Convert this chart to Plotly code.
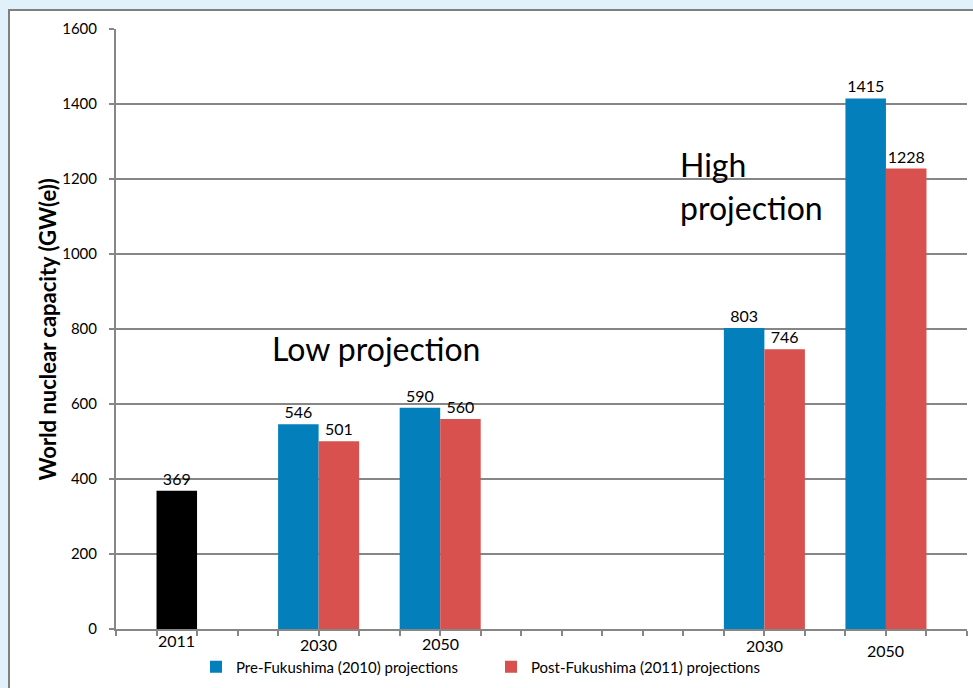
import plotly.graph_objects as go

# ---- data ----
actual_label = "2011"
actual_value = 369
actual_slot = 1

group_labels = ["2030", "2050", "2030", "2050"]
group_slots = [4, 7, 15, 18]          # slot of the pre-Fukushima bar in each group
pre_values = [546, 590, 803, 1415]
post_values = [501, 560, 746, 1228]
n_slots = 21

y_ticks = [0, 200, 400, 600, 800, 1000, 1200, 1400, 1600]

# ---- style ----
FONT = "Lato"
GRID = "#868686"
BLUE = "#0380bb"
RED = "#d9514e"
LABEL_SIZE = 16

fig = go.Figure()

fig.add_trace(go.Bar(
    x=[actual_slot + 0.5], y=[actual_value], width=1,
    marker=dict(color="black", line=dict(width=0)),
    text=[str(actual_value)], textposition="outside", textangle=0,
    textfont=dict(family=FONT, size=LABEL_SIZE, color="black"),
    showlegend=False, cliponaxis=False, constraintext="none",
))
fig.add_trace(go.Bar(
    x=[s + 0.5 for s in group_slots], y=pre_values, width=1,
    name="Pre-Fukushima (2010) projections",
    marker=dict(color=BLUE, line=dict(width=0)),
    text=[str(v) for v in pre_values], textposition="outside", textangle=0,
    textfont=dict(family=FONT, size=LABEL_SIZE, color="black"),
    cliponaxis=False, constraintext="none",
))
fig.add_trace(go.Bar(
    x=[s + 1.5 for s in group_slots], y=post_values, width=1,
    name="Post-Fukushima (2011) projections",
    marker=dict(color=RED, line=dict(width=0)),
    text=[str(v) for v in post_values], textposition="outside", textangle=0,
    textfont=dict(family=FONT, size=LABEL_SIZE, color="black"),
    cliponaxis=False, constraintext="none",
))

# x category labels
label_x = [actual_slot + 0.5] + [s + 1 for s in group_slots]
label_text = [actual_label] + group_labels
label_shift = [-11, -15, -14, -16, -21]
annotations = []
for lx, lt, sh in zip(label_x, label_text, label_shift):
    annotations.append(dict(x=lx, y=0, xref="x", yref="y", text=lt, showarrow=False,
                            yshift=sh, font=dict(family=FONT, size=16, color="black")))

annotations += [
    dict(x=(270 - 116) / 851, y=(630 - 349) / 601, xref="paper", yref="paper",
         text="Low projection", showarrow=False, xanchor="left", yanchor="middle",
         font=dict(family=FONT, size=32, color="black")),
    dict(x=(678 - 116) / 851, y=(630 - 165) / 601, xref="paper", yref="paper",
         text="High", showarrow=False, xanchor="left", yanchor="middle",
         font=dict(family=FONT, size=32, color="black")),
    dict(x=(678 - 116) / 851, y=(630 - 208) / 601, xref="paper", yref="paper",
         text="projection", showarrow=False, xanchor="left", yanchor="middle",
         font=dict(family=FONT, size=32, color="black")),
    dict(x=(47 - 116) / 851, y=(630 - 330) / 601, xref="paper", yref="paper",
         text="<b>World nuclear capacity (GW(e))</b>", showarrow=False, textangle=-90,
         xanchor="center", yanchor="middle",
         font=dict(family=FONT, size=22, color="black")),
]

fig.update_layout(
    width=973, height=688,
    margin=dict(l=116, r=6, t=29, b=58),
    paper_bgcolor="#e1f1fb",
    plot_bgcolor="white",
    barmode="overlay",
    annotations=annotations,
    shapes=[dict(type="rect", xref="paper", yref="paper", layer="below",
                 x0=(9 - 116) / 851, x1=(990 - 116) / 851,
                 y0=(630 - 710) / 601, y1=(630 - 10) / 601,
                 fillcolor="white", line=dict(color="#7f7f7f", width=2))],
    legend=dict(orientation="h", x=(196 - 116) / 851, xanchor="left",
                y=(630 - 667) / 601, yanchor="middle",
                font=dict(family=FONT, size=15, color="black"),
                bgcolor="rgba(0,0,0,0)", entrywidth=250, entrywidthmode="pixels",
                tracegroupgap=0),
    xaxis=dict(range=[0, n_slots], showgrid=False, zeroline=False,
               tickvals=list(range(n_slots + 1)), showticklabels=False,
               ticks="outside", ticklen=5, tickwidth=2, tickcolor=GRID,
               showline=True, linecolor=GRID, linewidth=2, fixedrange=True),
    yaxis=dict(range=[0, 1600], tickvals=y_ticks, showgrid=True, gridcolor=GRID, gridwidth=2,
               zeroline=False, ticks="outside", ticklen=5, tickwidth=2, tickcolor=GRID,
               showline=True, linecolor=GRID, linewidth=2, ticklabelstandoff=9,
               tickfont=dict(family=FONT, size=15, color="black")),
)

fig.write_html("out.html")
